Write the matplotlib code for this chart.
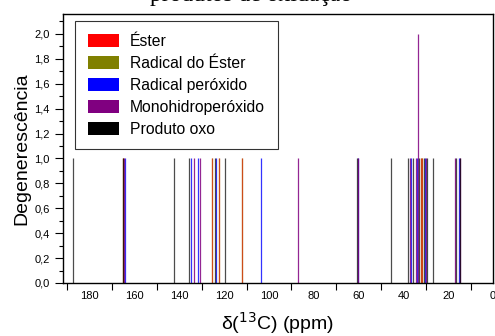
import numpy as np
import matplotlib
matplotlib.use("Agg")
import matplotlib.pyplot as plt
from matplotlib.patches import Patch
from matplotlib.ticker import MultipleLocator, FixedLocator

plt.rcParams['font.family'] = ['Liberation Sans', 'DejaVu Sans']

# chemical shifts (ppm) and degeneracy of each species
ester_ppm = [165.0, 125.5, 122.2, 112.1, 32.2, 31.6]
ester_deg = [1, 1, 1, 1, 1, 1]
rad_ester_ppm = [165.0, 125.5, 122.2, 112.1, 32.2, 31.6]
rad_ester_deg = [1, 1, 1, 1, 1, 1]
rad_perox_ppm = [164.3, 134.7, 131.6, 123.6, 103.6, 60.2, 36.5, 34.0, 30.5, 15.0]
rad_perox_deg = [1, 1, 1, 1, 1, 1, 1, 1, 1, 1]
mono_ppm = [164.6, 133.4, 130.9, 87.2, 60.4, 37.2, 34.6, 33.4, 29.8, 16.9, 14.8]
mono_deg = [1, 1, 1, 1, 1, 1, 1, 2, 1, 1, 1]
oxo_ppm = [187.4, 165.3, 142.3, 135.8, 124.0, 119.8, 60.6, 45.6, 38.0,
           35.5, 33.0, 31.0, 29.4, 26.7, 16.6, 14.6]
oxo_deg = [1] * len(oxo_ppm)

labels = ['Éster', 'Radical do Éster', 'Radical peróxido',
          'Monohidroperóxido', 'Produto oxo']
colors = ['#ff0000', '#808000', '#0000ff', '#800080', '#000000']

fig = plt.figure(figsize=(4.95, 3.36), dpi=100)
ax = fig.add_axes([63 / 495, 1 - 283 / 336, 430 / 495, 269 / 336])

ax.vlines(rad_ester_ppm, 0, rad_ester_deg, colors=colors[1], lw=0.9, alpha=0.8)
ax.vlines(ester_ppm, 0, ester_deg, colors=colors[0], lw=0.9, alpha=0.5)
ax.vlines(rad_perox_ppm, 0, rad_perox_deg, colors=colors[2], lw=0.9, alpha=0.8)
ax.vlines(mono_ppm, 0, mono_deg, colors=colors[3], lw=0.9, alpha=0.85)
ax.vlines(oxo_ppm, 0, oxo_deg, colors=colors[4], lw=0.9, alpha=0.7)

ax.set_xlim(192, 0)
ax.set_ylim(0, 2.16)

ax.xaxis.set_major_locator(MultipleLocator(20))
ax.xaxis.set_minor_locator(FixedLocator(np.arange(10, 200, 20)))
ax.yaxis.set_major_locator(MultipleLocator(0.2))
ax.yaxis.set_minor_locator(MultipleLocator(0.1))
ax.yaxis.set_major_formatter(lambda v, p: f"{v:.1f}".replace('.', ','))
ax.tick_params(axis='x', which='major', length=0, pad=6, labelsize=8)
ax.tick_params(axis='x', which='minor', length=5, width=0.8, direction='out')
ax.tick_params(axis='y', which='major', length=6, width=0.8, labelsize=8)
ax.tick_params(axis='y', which='minor', length=3, width=0.8)
for s in ax.spines.values():
    s.set_linewidth(1.0)

ax.set_xlabel('δ($^{13}$C) (ppm)', fontsize=14, labelpad=6)
ax.set_ylabel('Degenerescência', fontsize=14, labelpad=3)

handles = [Patch(facecolor=c, edgecolor='none') for c in colors]
leg = ax.legend(handles, labels, loc='upper left', bbox_to_anchor=(0.028, 0.974),
                borderaxespad=0, fontsize=11.3, handlelength=2.0, handleheight=0.9,
                handletextpad=0.7, labelspacing=0.45, borderpad=0.8,
                fancybox=False, frameon=True)
leg.get_frame().set_edgecolor('black')
leg.get_frame().set_linewidth(0.8)

fig.text(150 / 495, 0.997, 'produtos de oxidação', family='Liberation Serif',
         fontsize=17, ha='left', va='baseline')

fig.savefig('out.png', dpi=100)
